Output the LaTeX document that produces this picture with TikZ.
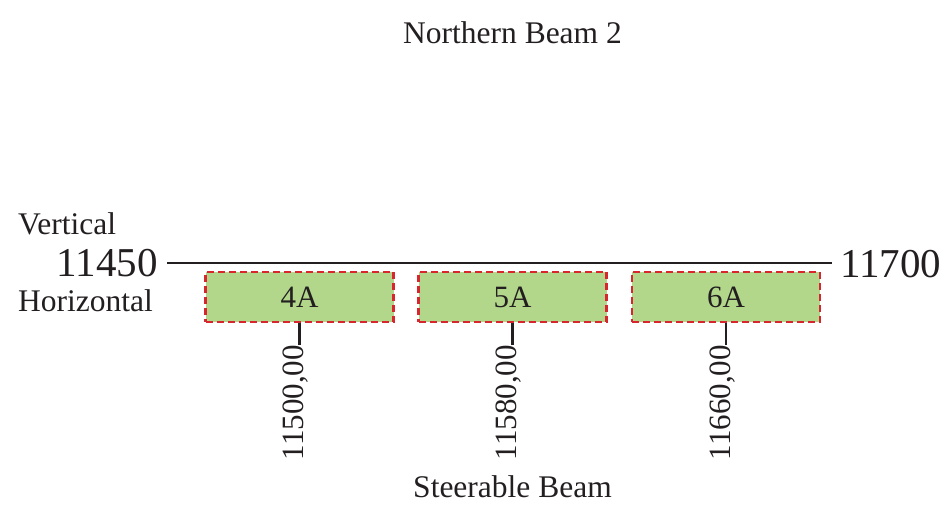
\documentclass[tikz,border=0pt]{standalone}
\usepackage{fontspec}
\setmainfont{Liberation Serif}
\definecolor{boxgreen}{HTML}{B2D78B}
\definecolor{boxred}{HTML}{D8262E}
\definecolor{ink}{HTML}{231F20}
\begin{document}
\begin{tikzpicture}[x=1pt,y=1pt,
  txt/.style={inner sep=0pt,text=ink,font=\fontsize{31.5}{36}\selectfont},
  big/.style={inner sep=0pt,text=ink,font=\fontsize{41}{46}\selectfont},
  beambox/.style={draw=boxred,fill=boxgreen,line width=2.6pt,dash pattern=on 7pt off 4pt,
    minimum width=188pt,minimum height=50pt,inner sep=0pt,text=ink,font=\fontsize{31}{36}\selectfont},
  vlabel/.style={inner sep=0pt,text=ink,rotate=90,anchor=east,font=\fontsize{31}{36}\selectfont},
  stem/.style={draw=ink,line width=2.6pt},
  axis/.style={draw=ink,line width=2.2pt}]
\useasboundingbox (0,0) rectangle (945,-504);
\node[txt,anchor=base] (title) at (512.5,-43) {Northern Beam 2};
\node[txt,anchor=base] (bottom) at (512.5,-497) {Steerable Beam};
\node[txt,anchor=base west] (vert) at (18,-234) {Vertical};
\node[txt,anchor=base west] (horiz) at (18,-311) {Horizontal};
\node[big,anchor=base east] (left) at (158,-276) {11450};
\node[big,anchor=base west] (right) at (840,-277) {11700};
\coordinate (la) at (167,-263);
\coordinate (ra) at (832,-263);
\draw[axis] (la) -- (ra);
\node[beambox] (b4) at (299.5,-297) {4A};
\node[beambox] (b5) at (512.5,-297) {5A};
\node[beambox] (b6) at (726,-297) {6A};
\node[vlabel] (l4) at (296,-345) {11500,00};
\node[vlabel] (l5) at (509,-345) {11580,00};
\node[vlabel] (l6) at (723,-345) {11660,00};
\draw[stem] (b4.south) -- (b4.south |- l4.east);
\draw[stem] (b5.south) -- (b5.south |- l5.east);
\draw[stem] (b6.south) -- (b6.south |- l6.east);
\end{tikzpicture}
\end{document}
